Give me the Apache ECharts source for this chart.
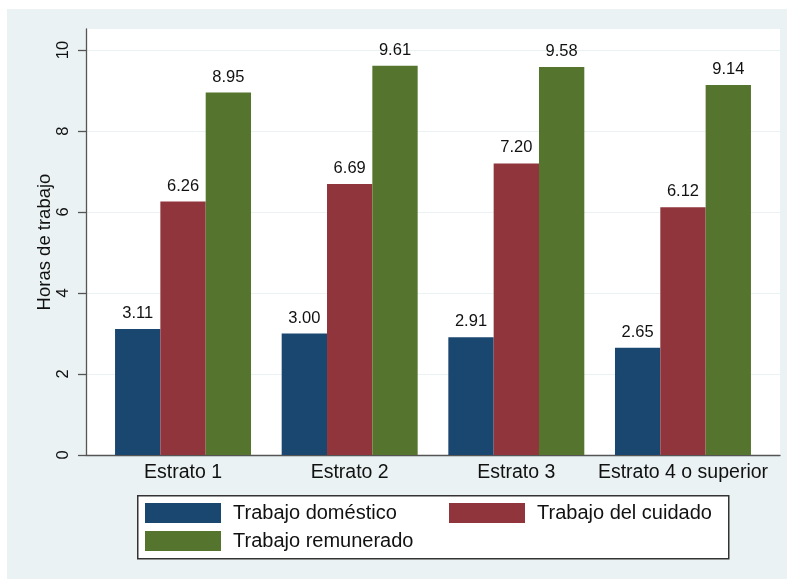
<!DOCTYPE html>
<html>
<head>
<meta charset="utf-8">
<script src="https://cdn.jsdelivr.net/npm/echarts@6/dist/echarts.min.js"></script>
<style>
html,body{margin:0;padding:0;background:#fff;}
#wrap{position:relative;width:787px;height:579px;overflow:hidden;}
#bg{position:absolute;left:7px;top:9px;width:780px;height:570px;background:#EAF2F3;}
#chart{position:absolute;left:0;top:0;width:787px;height:579px;}
</style>
</head>
<body>
<div id="wrap"><div id="bg"></div><div id="chart"></div></div>
<script>
const categories = ['Estrato 1', 'Estrato 2', 'Estrato 3', 'Estrato 4 o superior'];
const seriesNames = ['Trabajo doméstico', 'Trabajo del cuidado', 'Trabajo remunerado'];
const domestico = [3.11, 3.00, 2.91, 2.65];
const cuidado = [6.26, 6.69, 7.20, 6.12];
const remunerado = [8.95, 9.61, 9.58, 9.14];
const yTicks = [0, 2, 4, 6, 8, 10];
const colors = ['#1A476F', '#90353B', '#55752F'];

const FONT = 'Liberation Sans, Arial, sans-serif';
const YMAX = 10.52;

const chart = echarts.init(document.getElementById('chart'), null, {renderer: 'canvas'});

function barSeries(name, data, color) {
  return {
    name: name,
    type: 'bar',
    xAxisIndex: 1,
    yAxisIndex: 1,
    data: data,
    barGap: '0%',
    barCategoryGap: '18.4%',
    itemStyle: {color: color},
    label: {
      show: true,
      position: 'top',
      distance: 7,
      fontFamily: FONT,
      fontSize: 16.5,
      color: '#111',
      formatter: p => p.value.toFixed(2)
    }
  };
}

chart.setOption({
  backgroundColor: 'transparent',
  animation: false,
  grid: [
    {left: 86, top: 29, width: 694, height: 426, show: true, backgroundColor: '#fff', borderWidth: 0},
    {left: 99.7, top: 29, width: 666.6, height: 426}
  ],
  xAxis: [
    {
      gridIndex: 0, type: 'value', min: 0, max: 1,
      axisLine: {show: true, lineStyle: {color: '#555', width: 1.3}},
      axisTick: {show: false}, axisLabel: {show: false}, splitLine: {show: false}
    },
    {
      gridIndex: 1, type: 'category', data: categories,
      axisLine: {show: false}, axisTick: {show: false},
      axisLabel: {interval: 0, margin: 8, fontFamily: FONT, fontSize: 19.5, color: '#111'}
    }
  ],
  yAxis: [
    {
      gridIndex: 0, type: 'value', min: 0, max: YMAX, interval: 2,
      name: 'Horas de trabajo', nameLocation: 'middle', nameGap: 32, nameMoveOverlap: false,
      nameTextStyle: {fontFamily: FONT, fontSize: 18.5, color: '#111'},
      axisLine: {show: true, lineStyle: {color: '#555', width: 1.3}},
      axisTick: {show: true, inside: false, length: 8, lineStyle: {color: '#555', width: 1.3}, customValues: yTicks},
      axisLabel: {rotate: 90, margin: 14, fontFamily: FONT, fontSize: 16.5, color: '#111', customValues: yTicks},
      splitLine: {show: true, lineStyle: {color: '#EAF2F3', width: 1}}
    },
    {
      gridIndex: 1, type: 'value', min: 0, max: YMAX, show: false
    }
  ],
  legend: {
    left: 145, top: 503, width: 620,
    itemWidth: 76, itemHeight: 20, itemGap: 8,
    padding: 0,
    icon: 'rect',
    data: seriesNames,
    textStyle: {fontFamily: FONT, fontSize: 20, color: '#111', width: 208, lineHeight: 20, padding: [0, 0, 0, 7]}
  },
  graphic: [
    {type: 'rect', left: 137, top: 495, shape: {width: 591, height: 63},
     style: {fill: '#fff', stroke: '#333', lineWidth: 1.5}, z: -1, silent: true}
  ],
  series: [
    barSeries(seriesNames[0], domestico, colors[0]),
    barSeries(seriesNames[1], cuidado, colors[1]),
    barSeries(seriesNames[2], remunerado, colors[2])
  ]
});
</script>
</body>
</html>
